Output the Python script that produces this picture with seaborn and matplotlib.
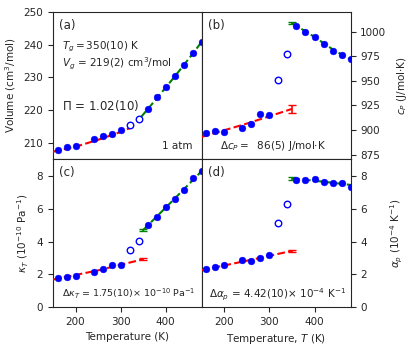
import numpy as np
import pandas as pd
import seaborn as sns
import matplotlib.pyplot as plt

# measured temperatures (K); 320 and 340 K are the open (transition) points
temps = [160, 180, 200, 240, 260, 280, 300, 320, 340, 360, 380, 400, 420, 440, 460, 480]
open_temps = [320, 340]

volume = [207.9, 208.9, 209.0, 211.2, 212.2, 212.7, 213.9, 215.4, 217.3,
          220.5, 223.9, 227.1, 230.5, 233.9, 237.4, 240.8]
cp = [897.1, 898.8, 897.8, 901.5, 905.6, 916.1, 915.1, 950.4, 977.6,
      1006.1, 999.3, 994.2, 987.4, 980.3, 976.2, 971.8]
kappa = [1.75, 1.81, 1.91, 2.17, 2.34, 2.56, 2.54, 3.51, 4.02,
         5.00, 5.48, 6.09, 6.58, 7.17, 7.88, 8.28]
alpha = [2.31, 2.44, 2.56, 2.86, 2.82, 3.00, 3.17, 5.14, 6.27,
         7.74, 7.72, 7.80, 7.63, 7.59, 7.59, 7.33]

# fit lines: glass (red) and liquid (green)
vol_glass_T = [150, 200, 250, 300, 328]
vol_glass = [207.4, 208.9, 211.0, 213.4, 215.0]
vol_liq_T = [345, 380, 420, 450, 480]
vol_liq = [217.9, 223.6, 230.3, 235.5, 240.9]

cp_glass_T = [150, 250, 350]
cp_glass = [893.0, 906.5, 921.4]
cp_liq_T = [350, 400, 440, 480]
cp_liq = [1008.6, 994.5, 982.0, 971.5]

kap_glass_T = [150, 250, 350]
kap_glass = [1.68, 2.24, 2.92]
kap_liq_T = [350, 415, 480]
kap_liq = [4.70, 6.48, 8.30]

alp_glass_T = [150, 250, 350]
alp_glass = [2.25, 2.83, 3.43]
alp_liq_T = [350, 415, 480]
alp_liq = [7.85, 7.66, 7.45]

# error bars at Tg: (value, err) for glass and liquid
cp_err = [(921.4, 4.0), (1008.6, 1.0)]
kap_err = [(2.92, 0.05), (4.70, 0.05)]
alp_err = [(3.43, 0.05), (7.84, 0.07)]

sns.set_style("ticks")
plt.rcParams['font.family'] = ['DejaVu Sans']
plt.rcParams['font.size'] = 7.5
plt.rcParams['mathtext.fontset'] = 'dejavusans'

fig, axes = plt.subplots(2, 2, figsize=(4.11, 3.49), dpi=100)
fig.subplots_adjust(left=0.129, right=0.853, bottom=0.120, top=0.966,
                    wspace=0, hspace=0)
ax_a, ax_b = axes[0]
ax_c, ax_d = axes[1]


def draw_panel(ax, vals, glass_T, glass, liq_T, liq, errs=None):
    df = pd.DataFrame({'T': temps, 'y': vals})
    df['open'] = df['T'].isin(open_temps)
    sns.lineplot(x=glass_T, y=glass, ax=ax, color='red', linestyle='--',
                 linewidth=1.5, zorder=3)
    sns.lineplot(x=liq_T, y=liq, ax=ax, color='green', linestyle='--',
                 linewidth=1.5, zorder=3)
    if errs is not None:
        ax.errorbar([350], [errs[0][0]], yerr=[errs[0][1]], color='red',
                    capsize=3, linewidth=1.2, zorder=3)
        ax.errorbar([350], [errs[1][0]], yerr=[errs[1][1]], color='green',
                    capsize=3, linewidth=1.2, zorder=3)
    filled = df[~df['open']]
    hollow = df[df['open']]
    sns.scatterplot(data=filled, x='T', y='y', ax=ax, color='blue',
                    edgecolor='blue', s=24, linewidth=0.3, zorder=4)
    sns.scatterplot(data=hollow, x='T', y='y', ax=ax, facecolor='white',
                    edgecolor='blue', s=22, linewidth=1.0, zorder=4)
    ax.set_xlim(150, 480)
    ax.set_xlabel('')
    ax.set_ylabel('')


draw_panel(ax_a, volume, vol_glass_T, vol_glass, vol_liq_T, vol_liq)
draw_panel(ax_b, cp, cp_glass_T, cp_glass, cp_liq_T, cp_liq, cp_err)
draw_panel(ax_c, kappa, kap_glass_T, kap_glass, kap_liq_T, kap_liq, kap_err)
draw_panel(ax_d, alpha, alp_glass_T, alp_glass, alp_liq_T, alp_liq, alp_err)

ax_a.set_ylim(205, 250)
ax_a.set_yticks([210, 220, 230, 240, 250])
ax_b.set_ylim(870, 1020)
ax_b.set_yticks([875, 900, 925, 950, 975, 1000])
ax_c.set_ylim(0, 9)
ax_c.set_yticks([0, 2, 4, 6, 8])
ax_d.set_ylim(0, 9)
ax_d.set_yticks([0, 2, 4, 6, 8])

for ax in (ax_a, ax_b):
    ax.tick_params(bottom=False, labelbottom=False)
for ax in (ax_c, ax_d):
    ax.set_xticks([200, 300, 400])
for ax in (ax_b, ax_d):
    ax.yaxis.tick_right()
    ax.yaxis.set_label_position('right')

ax_a.set_ylabel('Volume (cm$^3$/mol)')
ax_b.set_ylabel('$c_P$ (J/mol$\\cdot$K)', labelpad=6)
ax_c.set_ylabel('$\\kappa_T$ ($10^{-10}$ Pa$^{-1}$)')
ax_d.set_ylabel('$\\alpha_p$ ($10^{-4}$ K$^{-1}$)', labelpad=16)
ax_c.set_xlabel('Temperature (K)')
ax_d.set_xlabel('Temperature, $T$ (K)')

for ax, lab in zip([ax_a, ax_b, ax_c, ax_d], ['(a)', '(b)', '(c)', '(d)']):
    ax.text(0.04, 0.91, lab, transform=ax.transAxes, fontsize=8.5,
            va='center', ha='left')

ax_a.text(0.06, 0.763, '$T_g = 350(10)$ K', transform=ax_a.transAxes, va='center')
ax_a.text(0.06, 0.65, '$V_g$ = 219(2) cm$^3$/mol', transform=ax_a.transAxes, va='center')
ax_a.text(0.06, 0.368, '$\\Pi$ = 1.02(10)', transform=ax_a.transAxes, va='center',
          fontsize=8.5)
ax_a.text(0.935, 0.092, '1 atm', transform=ax_a.transAxes, va='center', ha='right')
ax_b.text(0.478, 0.092, '$\\Delta c_P =$  86(5) J/mol$\\cdot$K', transform=ax_b.transAxes,
          va='center', ha='center')
ax_c.text(0.51, 0.086, '$\\Delta\\kappa_T$ = 1.75(10)$\\times$ $10^{-10}$ Pa$^{-1}$',
          transform=ax_c.transAxes, va='center', ha='center', fontsize=6.8)
ax_d.text(0.512, 0.081, '$\\Delta\\alpha_p$ = 4.42(10)$\\times$ $10^{-4}$ K$^{-1}$',
          transform=ax_d.transAxes, va='center', ha='center', fontsize=7.5)

fig.savefig('out.png', dpi=100)
